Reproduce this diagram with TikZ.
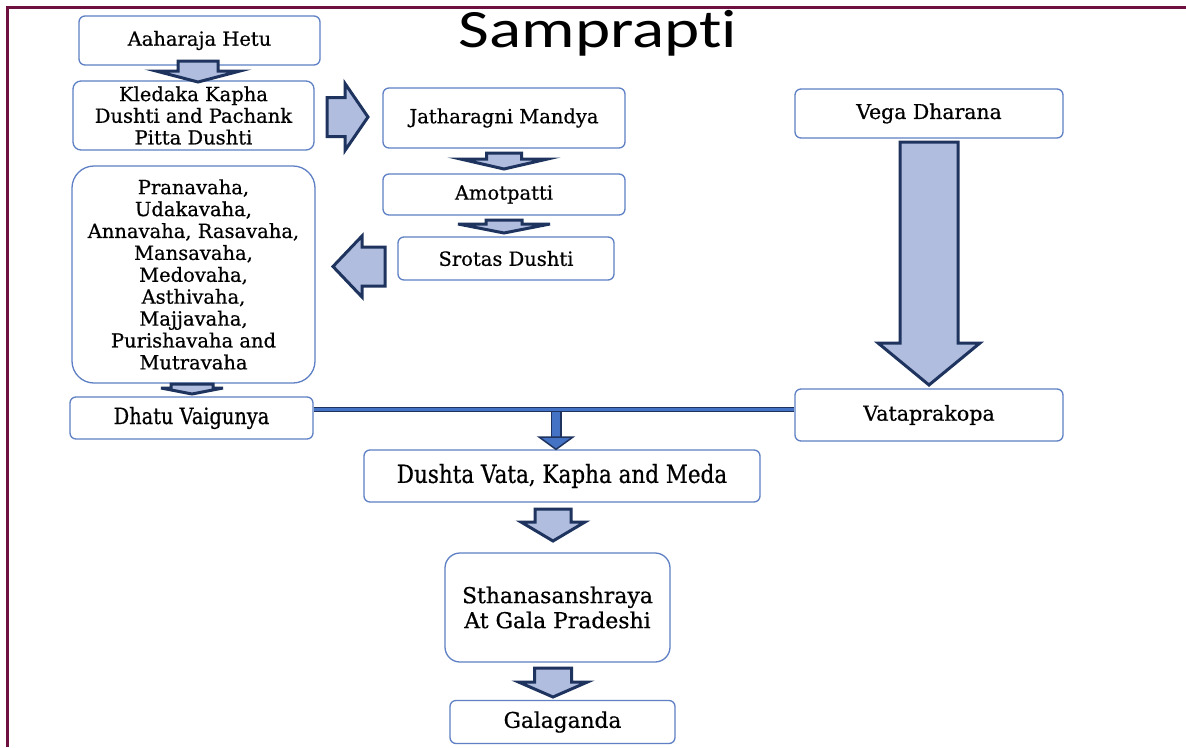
\documentclass[tikz,border=0pt]{standalone}
\usepackage{fontspec}
\setmainfont[FakeBold=0.6]{DejaVu Serif}
\newfontfamily\condfont[FakeStretch=0.86,FakeBold=0.6]{DejaVu Serif}
\newfontfamily\titlefont[FakeStretch=1.24,Ligatures=NoCommon]{Carlito}
\usetikzlibrary{calc}
\definecolor{boxblue}{RGB}{95,128,196}
\definecolor{arrfill}{RGB}{176,189,223}
\definecolor{arrdraw}{RGB}{30,52,95}
\definecolor{connblue}{RGB}{68,114,196}
\definecolor{framecol}{RGB}{110,16,64}
\newcommand{\blockdown}[6]{% cx, top, headY, tip, shaftHalf, headHalf
  \draw[barrow] (#1-#5,#2) -- (#1+#5,#2) -- (#1+#5,#3) -- (#1+#6,#3) -- (#1,#4) -- (#1-#6,#3) -- (#1-#5,#3) -- cycle;}
\newcommand{\blockhoriz}[6]{% cy, start, headX, tip, shaftHalf, headHalf
  \draw[barrow] (#2,#1-#5) -- (#3,#1-#5) -- (#3,#1-#6) -- (#4,#1) -- (#3,#1+#6) -- (#3,#1+#5) -- (#2,#1+#5) -- cycle;}
\tikzset{
  box/.style={draw=boxblue, line width=1.3pt, rounded corners=6pt, fill=white,
    inner sep=0pt, align=center, font=\fontsize{19.5}{21.7}\selectfont},
  barrow/.style={draw=arrdraw, fill=arrfill, line width=3pt, line join=miter},
}
\begin{document}
\begin{tikzpicture}[x=1pt,y=-1pt]
\useasboundingbox (0,0) rectangle (1186,747);
\fill[white] (0,0) rectangle (1186,747);
\draw[framecol, line width=3pt] (1186,7.5) -- (7.5,7.5) -- (7.5,747);

\node[anchor=base, font=\titlefont\fontsize{54}{60}\selectfont] (title) at (598,47) {Samprapti};

\node[box, minimum width=241pt, minimum height=49pt] (hetu) at (199.5,40.5) {Aaharaja Hetu};
\node[box, minimum width=241pt, minimum height=69pt, rounded corners=8pt] (kled) at (193.5,115.5)
  {Kledaka Kapha\\Dushti and Pachank\\Pitta Dushti};
\node[box, minimum width=242pt, minimum height=60pt] (jath) at (504,118) {Jatharagni Mandya};
\node[box, minimum width=242pt, minimum height=41pt] (amot) at (504,194.5) {Amotpatti};
\node[box, minimum width=216pt, minimum height=43pt] (srot) at (506,258.5) {Srotas Dushti};
\node[box, minimum width=243pt, minimum height=217pt, rounded corners=22pt,
  font=\fontsize{19.5}{21.9}\selectfont] (prana) at (193.5,274.5)
  {Pranavaha,\\Udakavaha,\\Annavaha, Rasavaha,\\Mansavaha,\\Medovaha,\\Asthivaha,\\Majjavaha,\\Purishavaha and\\Mutravaha};
\node[box, minimum width=243pt, minimum height=42pt, font=\condfont\fontsize{22.5}{25}\selectfont] (dhatu) at (191.5,418) {Dhatu Vaigunya};
\node[box, minimum width=268pt, minimum height=49pt, font=\fontsize{20.4}{23}\selectfont] (vega) at (929,113.5) {Vega Dharana};
\node[box, minimum width=268pt, minimum height=52pt, font=\fontsize{20.6}{23}\selectfont] (vata) at (929,415) {Vataprakopa};
\node[box, minimum width=396pt, minimum height=52pt, font=\condfont\fontsize{25}{28}\selectfont] (dushta) at (562,476) {Dushta Vata, Kapha and Meda};
\node[box, minimum width=225pt, minimum height=109pt, rounded corners=15pt,
  font=\fontsize{21.9}{25}\selectfont] (sthana) at (557.5,607.5) {Sthanasanshraya\\At Gala Pradeshi};
\node[box, minimum width=225pt, minimum height=43pt, font=\fontsize{21.7}{25}\selectfont] (gala) at (562.5,722) {Galaganda};

% block arrows
\blockdown{198}{61}{71}{82}{20}{42}
\blockhoriz{117}{327}{345}{368}{19.5}{33.5}
\blockdown{504}{153}{159}{169}{17.5}{43.5}
\blockdown{504}{220}{224}{233}{18}{46}
\blockhoriz{266.5}{385}{362}{333}{19.5}{30.5}
\blockdown{192}{384}{388}{394}{21}{31}
\blockdown{929}{142}{343}{385}{29}{51}
\blockdown{553}{509}{522}{541}{18}{32}
\blockdown{553}{668}{682}{697}{18.5}{34.5}

% connector
\coordinate (ly) at (0,409.5);
\coordinate (jn) at (556,409.5);
\coordinate (stemend) at (556,437);
\draw[draw=arrdraw, double=connblue, line width=1.5pt, double distance=8pt] (jn) -- (stemend);
\draw[draw=arrdraw, fill=connblue, line width=1.5pt, line join=miter]
  (539,437) -- (573,437) -- (dushta.north -| jn) -- cycle;
\draw[draw=arrdraw, double=connblue, line width=1.4pt, double distance=2.2pt]
  (dhatu.east |- ly) -- (vata.west |- ly);
\end{tikzpicture}
\end{document}
